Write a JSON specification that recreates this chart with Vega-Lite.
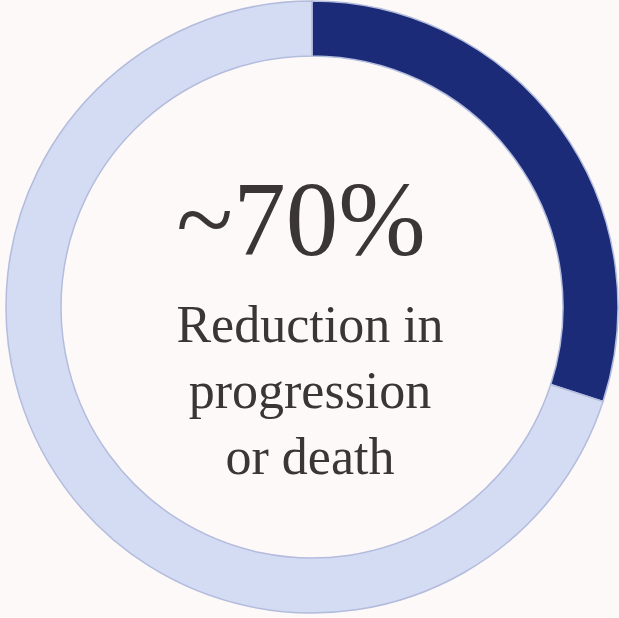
{
  "$schema": "https://vega.github.io/schema/vega-lite/v6.json",
  "autosize": {"type": "fit", "contains": "padding"},
  "width": 619,
  "height": 618,
  "padding": {"left": 5, "top": 0, "right": 0, "bottom": 4},
  "background": "#fdf9f8",
  "config": {"view": {"stroke": null}},
  "layer": [
    {
      "data": {"values": [
        {"segment": "Progression or death", "share": 30, "rank": 1},
        {"segment": "Reduction", "share": 70, "rank": 2}
      ]},
      "mark": {"type": "arc", "outerRadius": 306, "innerRadius": 251, "stroke": "#b3bcdd", "strokeWidth": 1.5},
      "encoding": {
        "theta": {"field": "share", "type": "quantitative", "stack": true},
        "order": {"field": "rank", "type": "quantitative"},
        "color": {"field": "segment", "type": "nominal", "legend": null,
          "scale": {"domain": ["Progression or death", "Reduction"], "range": ["#1b2b78", "#d4dcf4"]}}
      }
    },
    {
      "data": {"values": [{"label": "~70%"}]},
      "mark": {"type": "text", "font": "Liberation Serif", "fontSize": 105, "color": "#3b3535",
        "align": "center", "baseline": "alphabetic",
        "x": {"expr": "width/2"}, "y": {"expr": "height/2"}, "dx": -11, "dy": -52},
      "encoding": {"text": {"field": "label", "type": "nominal"}}
    },
    {
      "data": {"values": [{"label": "Reduction in\nprogression\nor death"}]},
      "mark": {"type": "text", "font": "Liberation Serif", "fontSize": 52, "color": "#3b3535",
        "align": "center", "baseline": "alphabetic", "lineBreak": "\n", "lineHeight": 66,
        "x": {"expr": "width/2"}, "y": {"expr": "height/2"}, "dx": -2, "dy": 35},
      "encoding": {"text": {"field": "label", "type": "nominal"}}
    }
  ]
}
